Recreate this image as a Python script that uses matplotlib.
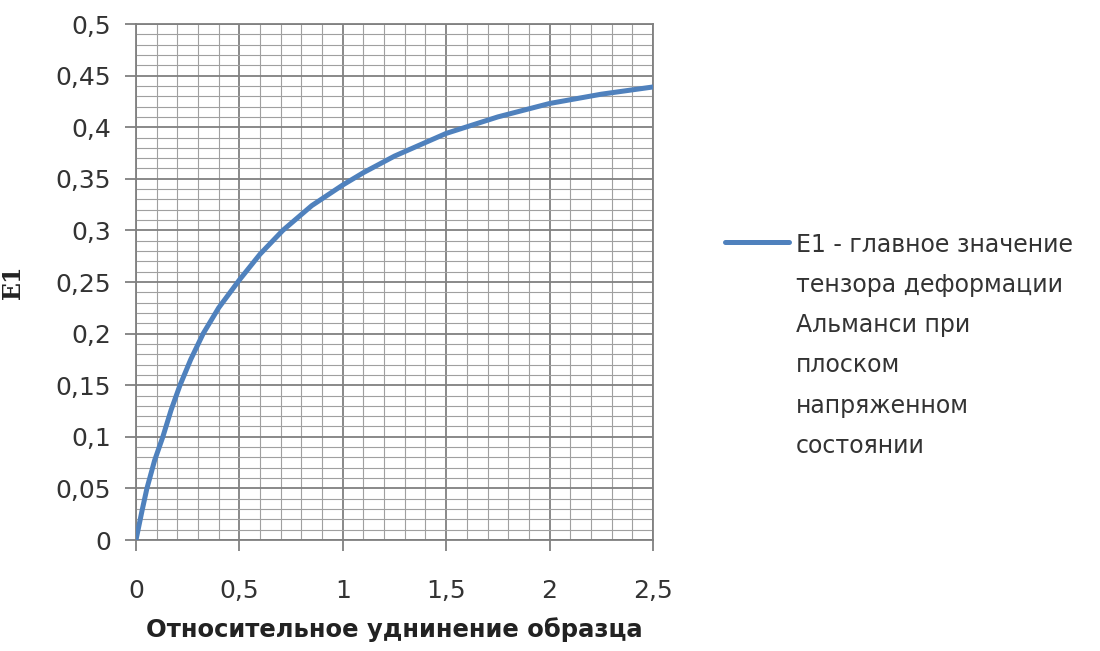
import matplotlib
matplotlib.use("Agg")
import matplotlib.pyplot as plt
from matplotlib.lines import Line2D
from matplotlib.ticker import FuncFormatter, MultipleLocator

# values
elong = [0, 0.03, 0.053, 0.09, 0.13, 0.17, 0.213, 0.265, 0.325, 0.4, 0.5, 0.6, 0.71,
         0.85, 1.0, 1.1, 1.25, 1.5, 1.75, 2.0, 2.25, 2.5]
e1 = [0, 0.029, 0.05, 0.077, 0.10, 0.126, 0.15, 0.175, 0.20, 0.225, 0.252, 0.277,
      0.30, 0.324, 0.344, 0.356, 0.372, 0.394, 0.41, 0.423, 0.432, 0.439]

x_ticks = [0, 0.5, 1, 1.5, 2, 2.5]
y_ticks = [0, 0.05, 0.1, 0.15, 0.2, 0.25, 0.3, 0.35, 0.4, 0.45, 0.5]

legend_lines = ["E1 - главное значение", "тензора деформации", "Альманси при",
                "плоском", "напряженном", "состоянии"]

def comma(v, pos):
    s = ("%.2f" % v).rstrip("0").rstrip(".")
    return s.replace(".", ",")

fig = plt.figure(figsize=(11, 6.51), dpi=100)
ax = fig.add_axes([0.1236, 0.1705, 0.4700, 0.7926])

ax.plot(elong, e1, color="#4F81BD", lw=3.6, zorder=3)

ax.set_xlim(0, 2.5)
ax.set_ylim(0, 0.5)
ax.set_xticks(x_ticks)
ax.set_yticks(y_ticks)
ax.xaxis.set_minor_locator(MultipleLocator(0.1))
ax.yaxis.set_minor_locator(MultipleLocator(0.01))
ax.xaxis.set_major_formatter(FuncFormatter(comma))
ax.yaxis.set_major_formatter(FuncFormatter(comma))

ax.grid(which="major", color="#808080", lw=1.3)
ax.grid(which="minor", color="#a0a0a0", lw=0.8)
ax.set_axisbelow(True)

for s in ax.spines.values():
    s.set_color("#808080")
    s.set_linewidth(1.3)

ax.tick_params(which="major", length=8, width=1.3, color="#808080",
               labelsize=18, labelcolor="#333333")
ax.tick_params(axis="x", which="major", pad=20)
ax.tick_params(axis="y", which="major", pad=10)
ax.tick_params(which="minor", length=0)

ax.set_xlabel("Относительное уднинение образца", fontsize=17.5,
              fontweight="bold", color="#222222", labelpad=10)
ax.set_ylabel("E1", fontsize=17, fontweight="bold", family="DejaVu Serif",
              color="#222222", labelpad=22)

# legend, drawn by hand so the key sits on the first line as in Excel
W, H = 1100.0, 651.0
fig.add_artist(Line2D([725 / W, 789 / W], [1 - 242 / H, 1 - 242 / H],
                      transform=fig.transFigure, color="#4F81BD", lw=3.6,
                      solid_capstyle="round"))
for i, txt in enumerate(legend_lines):
    fig.text(796 / W, 1 - (242 + 40.3 * i) / H, txt, fontsize=17,
             color="#333333", va="center_baseline", ha="left")

fig.savefig("out.png", dpi=100, facecolor="white")
